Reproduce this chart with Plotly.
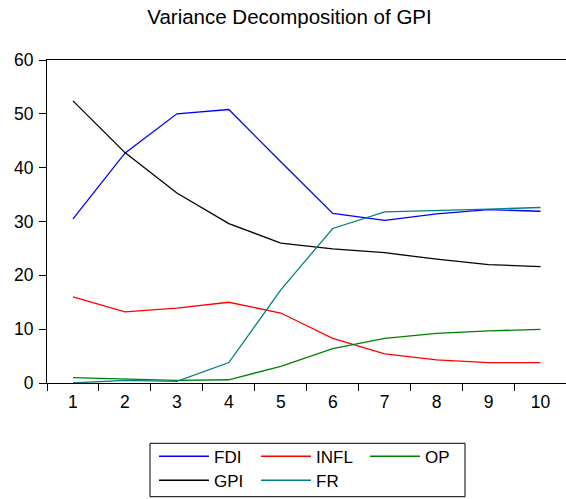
import plotly.graph_objects as go

periods = ["1", "2", "3", "4", "5", "6", "7", "8", "9", "10"]
fdi = [30.5, 42.7, 50.0, 50.8, 41.1, 31.5, 30.2, 31.4, 32.2, 31.9]
gpi = [52.4, 42.8, 35.3, 29.6, 26.0, 24.9, 24.2, 23.0, 22.0, 21.6]
infl = [16.0, 13.2, 13.9, 15.0, 13.0, 8.3, 5.4, 4.3, 3.8, 3.8]
fr = [0.0, 0.5, 0.3, 3.8, 17.3, 28.7, 31.8, 32.0, 32.3, 32.6]
op = [1.0, 0.7, 0.5, 0.6, 3.1, 6.4, 8.3, 9.2, 9.7, 9.95]

series = [
    ("FDI", fdi, "#0000FF"),
    ("INFL", infl, "#FF0000"),
    ("OP", op, "#008000"),
    ("GPI", gpi, "#000000"),
    ("FR", fr, "#008080"),
]

W, H = 566, 499
ML, MR, MT, MB = 47, 0, 60, 116
PW, PH = W - ML - MR, H - MT - MB
FONT = "Liberation Sans, Arial, sans-serif"

def px_x(p):
    return (p - ML) / PW

def px_y(p):
    return (H - MB - p) / PH

# legend item positions (pixels): left of item, vertical center of row
leg_pos = [(154, 456.7), (256, 456.7), (365, 456.7), (154, 480.7), (256, 480.7)]

fig = go.Figure()
legend_layout = {}
for i, ((name, vals, col), (lx, ly)) in enumerate(zip(series, leg_pos)):
    lname = "legend" if i == 0 else f"legend{i+1}"
    fig.add_trace(go.Scatter(
        x=periods, y=vals, mode="lines", name=name,
        line=dict(color=col, width=1.3), legend=lname,
    ))
    legend_layout[lname] = dict(
        x=px_x(lx), y=px_y(ly), xanchor="left", yanchor="middle",
        orientation="h", borderwidth=0, bgcolor="rgba(0,0,0,0)",
        font=dict(family=FONT, size=17, color="black"),
        itemwidth=50, indentation=0,
    )

fig.add_shape(type="rect", xref="paper", yref="paper",
              x0=px_x(150), x1=px_x(465), y0=px_y(496.7), y1=px_y(443.3),
              line=dict(color="black", width=1), fillcolor="rgba(0,0,0,0)")

fig.update_layout(
    width=W, height=H,
    margin=dict(l=ML, r=MR, t=MT, b=MB, pad=0),
    paper_bgcolor="white", plot_bgcolor="white",
    font=dict(family=FONT, size=17, color="black"),
    title=dict(text="Variance Decomposition of GPI", x=289.5 / W, xanchor="center",
               xref="container", yref="container", y=1 - 17 / H, yanchor="middle",
               font=dict(family=FONT, size=20.5, color="black")),
    showlegend=True,
    **legend_layout,
)
fig.update_xaxes(
    type="category", categoryorder="array", categoryarray=periods,
    range=[-0.5, 9.49], tickson="boundaries",
    ticks="outside", ticklen=7, tickcolor="black", tickwidth=1,
    showline=True, linecolor="black", linewidth=1, mirror=True,
    showgrid=False, zeroline=False, ticklabelstandoff=3,
    tickfont=dict(family=FONT, size=17.5, color="black"),
)
fig.update_yaxes(
    range=[0, 60], dtick=10, tick0=0,
    ticks="outside", ticklen=7, tickcolor="black", tickwidth=1,
    showline=True, linecolor="black", linewidth=1, mirror=False,
    showgrid=False, zeroline=False, ticklabelstandoff=2,
    tickfont=dict(family=FONT, size=17.5, color="black"),
)

fig.write_html("out.html")
